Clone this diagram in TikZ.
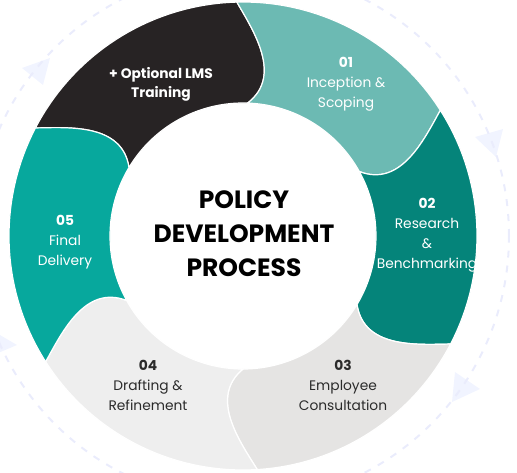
\documentclass[tikz,border=0pt]{standalone}
\usepackage{fontspec}
\setmainfont{Poppins}
\usepackage{tikz}

\definecolor{segK}{HTML}{272324}
\definecolor{segA}{HTML}{6CBAB3}
\definecolor{segB}{HTML}{05847A}
\definecolor{segC}{HTML}{E5E4E3}
\definecolor{segD}{HTML}{EEEEEE}
\definecolor{segE}{HTML}{07A89D}
\definecolor{ringline}{HTML}{EAECFC}
\definecolor{ringtip}{HTML}{F1F4FF}
\definecolor{darktext}{HTML}{2B2B2B}

\begin{document}
\begin{tikzpicture}[x=1pt,y=1pt,
    seg/.style={draw=white,line width=1.2pt},
    lbl/.style={align=center,font=\fontsize{13.8}{20}\selectfont},
    lightlbl/.style={lbl,text=white},
    darklbl/.style={lbl,text=darktext}]
  \useasboundingbox (-243,-236) rectangle (274,236);
  \begin{scope}
    \clip (-243,-236) rectangle (274,236);
    \fill[ringtip] (232,99) -- (260,107) -- (253,79) -- cycle;
    \fill[ringtip] (212,-136) -- (237,-153) -- (209,-166) -- cycle;
    \fill[ringtip] (-221,168) -- (-193,178) -- (-200,151) -- cycle;
    \fill[ringtip] (-255,-92) -- (-226,-109) -- (-252,-120) -- cycle;
    \draw[ringline,line width=2pt,dash pattern=on 7pt off 8pt] (0,0) circle[radius=266pt];
  \end{scope}
  \foreach \s/\e/\c in {149/88/segK,88/29/segA,29/-31/segB,-31/-90/segC,-90/-151/segD,209/149/segE}{
    \filldraw[seg,fill=\c] ({\s}:133pt) .. controls ({\s-12}:165pt) and ({\s-1}:205pt) .. ({\s+3.5}:234pt)
      arc[start angle={\s+3.5},end angle={\e+3.5},radius=234pt]
      .. controls ({\e-1}:205pt) and ({\e-12}:165pt) .. ({\e}:133pt)
      arc[start angle={\e},end angle={\s},radius=133pt] -- cycle;
  };
  \node[align=center,font=\bfseries\fontsize{25}{34}\selectfont] (title) at (1,2)
    {POLICY\\DEVELOPMENT\\PROCESS};
  \node[lightlbl,font=\bfseries\fontsize{13.8}{19}\selectfont] (lms) at (-82,152) {+ Optional LMS\\Training};
  \node[lightlbl] (step1) at (103,152) {\textbf{01}\\Inception \&\\Scoping};
  \node[lightlbl] (step2) at (184,1) {\textbf{02}\\Research\\\&\\Benchmarking};
  \node[darklbl] (step3) at (100,-149) {\textbf{03}\\Employee\\Consultation};
  \node[darklbl] (step4) at (-95,-149) {\textbf{04}\\Drafting \&\\Refinement};
  \node[lightlbl] (step5) at (-178,-6) {\textbf{05}\\Final\\Delivery};
\end{tikzpicture}
\end{document}
